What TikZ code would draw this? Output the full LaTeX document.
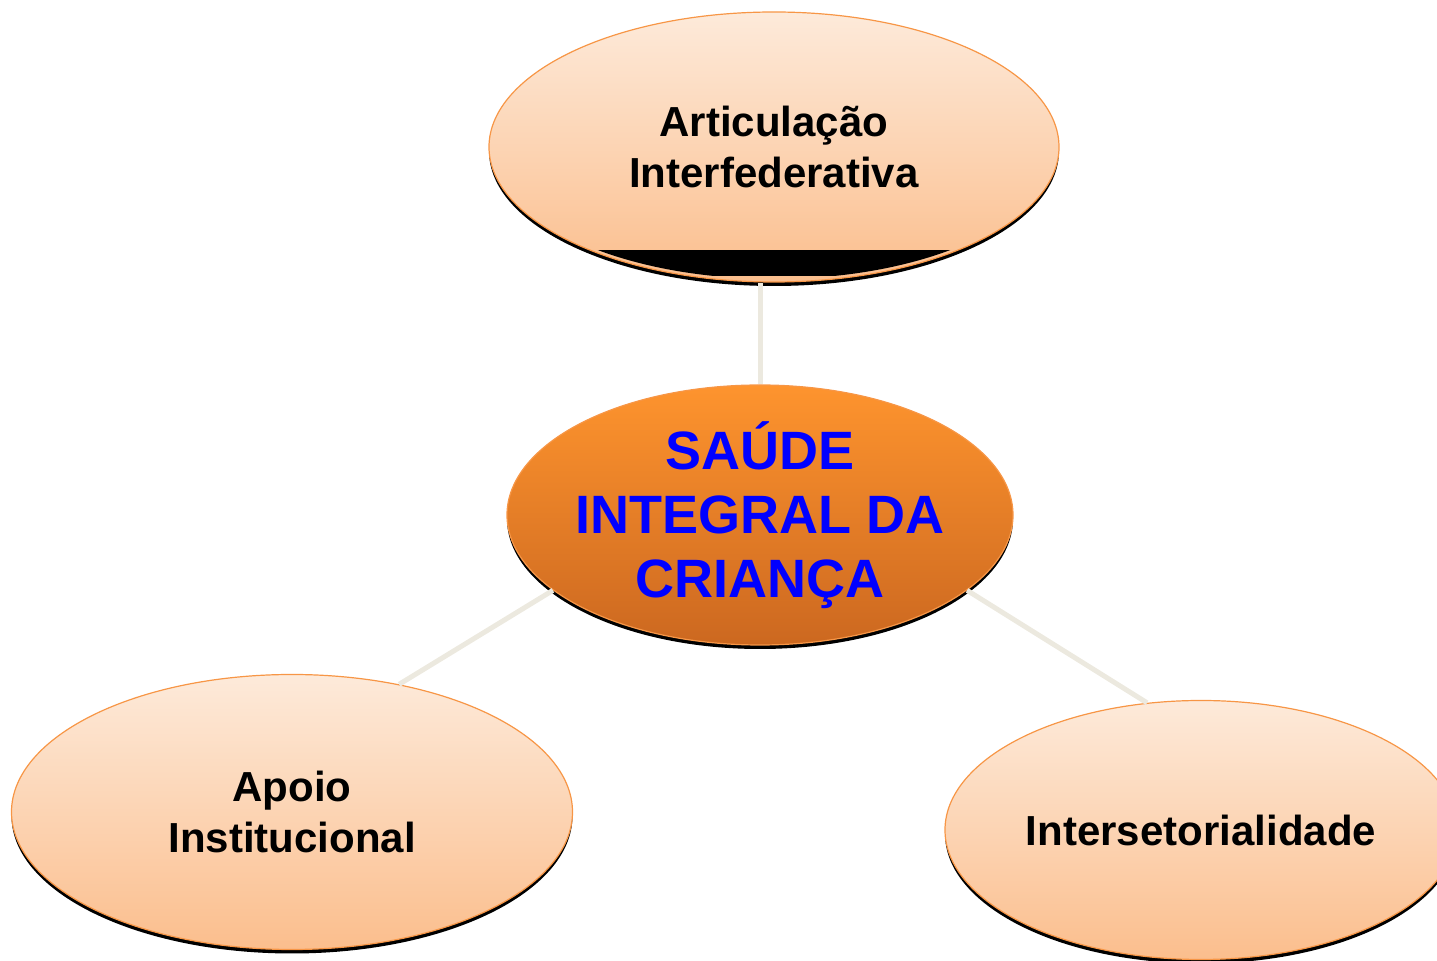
\documentclass[tikz,border=0pt]{standalone}
\usepackage{fontspec}
\setmainfont{Liberation Sans}
\usetikzlibrary{shapes,shadows}
\usepackage{xcolor}

\definecolor{peachtop}{RGB}{253,234,218}
\definecolor{peachbot}{RGB}{251,190,141}
\definecolor{hubtop}{RGB}{254,148,46}
\definecolor{hubbot}{RGB}{204,104,32}
\definecolor{rim}{RGB}{247,150,70}
\definecolor{linkgray}{RGB}{236,233,223}

\begin{document}
\begin{tikzpicture}[x=0.5pt,y=-0.5pt,
    bubble/.style={ellipse, draw=rim, line width=0.6pt, inner sep=0pt, align=center,
      top color=peachtop, bottom color=peachbot,
      drop shadow={shadow xshift=0pt, shadow yshift=-2pt, opacity=1, fill=black},
      font=\fontsize{21}{25.5}\selectfont\bfseries},
    hub/.style={bubble, top color=hubtop, bottom color=hubbot, text=blue,
      inner xsep=-3.5pt, inner ysep=-1pt,
      font=\fontsize{27}{32}\selectfont\bfseries},
    link/.style={draw=linkgray, line width=2.5pt}]

  \useasboundingbox (0,0) rectangle (1437,961);
  \clip (0,0) rectangle (1437,961);

  \node[bubble, minimum width=285pt, minimum height=135pt] (art) at (774,147) {Articulação\\Interfederativa};
  \node[hub, minimum width=253pt, minimum height=130pt] (saude) at (760,515) {SAÚDE\\INTEGRAL DA\\CRIANÇA};
  \node[bubble, minimum width=280.5pt, minimum height=137.5pt] (apoio) at (292,812) {Apoio\\Institucional};
  \node[bubble, minimum width=256pt, minimum height=129.5pt] (inter) at (1201,830) {Intersetorialidade};

  \coordinate (bandtop) at (0,250);
  \coordinate (bandbot) at (0,276);
  \begin{scope}
    \clip (art.center) ellipse [x radius=282, y radius=132];
    \fill[black] (art.west |- bandtop) rectangle (art.east |- bandbot);
  \end{scope}

  \draw[link] (saude.north) -- (saude.north |- art.south);
  \draw[link] (saude.200) -- (apoio.50);
  \draw[link] (saude.340) -- (inter.113);
\end{tikzpicture}
\end{document}
